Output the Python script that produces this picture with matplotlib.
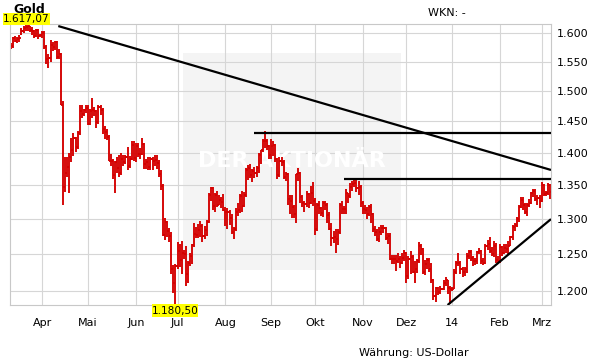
import matplotlib
matplotlib.use("Agg")
import matplotlib.pyplot as plt
import numpy as np
import pandas as pd
from matplotlib.patches import Rectangle
from matplotlib.ticker import FixedLocator, FuncFormatter, NullLocator

# ---------------- data ----------------
dates = pd.bdate_range("2013-03-11", "2014-03-07")

opens = [
    1577, 1578, 1591, 1587, 1589, 1598, 1604, 1610, 1611, 1613, 1606, 1605, 1596, 1606, 1596,
    1597, 1600, 1575, 1554, 1557, 1580, 1575, 1585, 1558, 1564, 1477, 1348, 1369, 1378, 1393, 1405, 1423, 1409, 1431, 1467, 1462, 1468,
    1472, 1446, 1467, 1469, 1467, 1449, 1473, 1469, 1437, 1433, 1425, 1387, 1387, 1366, 1385, 1377, 1369, 1391, 1386, 1394, 1380, 1391, 1412,
    1392, 1411, 1398, 1398, 1414, 1383, 1385, 1378, 1391, 1387, 1388, 1384, 1367, 1349, 1277, 1296, 1283, 1276, 1229, 1211,
    1234, 1255, 1242, 1252, 1250, 1223, 1238, 1247, 1263, 1279, 1277, 1284, 1290, 1276, 1284, 1296, 1335, 1346, 1319, 1335, 1321, 1328, 1325,
    1313, 1310, 1311, 1302, 1282, 1285, 1310, 1313, 1334, 1319, 1336, 1374, 1377, 1365, 1372, 1369, 1376, 1396, 1404, 1419, 1419, 1410,
    1396, 1411, 1412, 1390, 1365, 1387, 1386, 1363, 1367, 1329, 1326, 1317, 1307, 1367, 1368, 1333, 1323, 1322, 1337, 1324, 1338,
    1327, 1286, 1320, 1316, 1309, 1323, 1321, 1306, 1286, 1273, 1274, 1272, 1282, 1320, 1315, 1315, 1339, 1334, 1347, 1352, 1354, 1346, 1348,
    1323, 1315, 1314, 1308, 1318, 1308, 1286, 1281, 1272, 1282, 1287, 1287, 1273, 1275, 1244, 1243, 1244, 1241, 1243, 1238, 1245,
    1251, 1220, 1243, 1246, 1226, 1229, 1241, 1261, 1257, 1226, 1236, 1242, 1229, 1214, 1193, 1204, 1198, 1203, 1203, 1211, 1214, 1204,
    1202, 1203, 1225, 1238, 1238, 1230, 1225, 1229, 1247, 1253, 1245, 1240, 1241, 1253, 1254, 1241, 1238, 1262, 1264, 1255, 1250, 1262, 1242,
    1240, 1260, 1251, 1258, 1257, 1262, 1274, 1289, 1292, 1300, 1318, 1328, 1321, 1311, 1320, 1323, 1338, 1342, 1329, 1331,
    1326, 1350, 1337, 1338, 1351,
]
highs = [
    1583, 1593, 1595, 1594, 1597, 1609, 1614, 1615, 1617.07, 1614, 1611, 1606, 1608, 1607, 1599,
    1605, 1604, 1579, 1563, 1588, 1584, 1587, 1587, 1572, 1566, 1484, 1393, 1394, 1399, 1424, 1431, 1425, 1434, 1476, 1476, 1470, 1477,
    1476, 1470, 1488, 1474, 1468, 1476, 1476, 1472, 1442, 1438, 1428, 1398, 1390, 1387, 1393, 1397, 1399, 1397, 1397, 1409, 1395, 1419, 1418,
    1416, 1416, 1408, 1423, 1416, 1390, 1393, 1394, 1393, 1396, 1396, 1389, 1374, 1352, 1301, 1297, 1287, 1281, 1235, 1237,
    1267, 1264, 1268, 1256, 1262, 1240, 1252, 1265, 1294, 1288, 1293, 1297, 1293, 1290, 1299, 1339, 1348, 1347, 1338, 1342, 1336, 1333, 1337,
    1317, 1316, 1314, 1307, 1289, 1316, 1324, 1337, 1341, 1340, 1377, 1381, 1383, 1375, 1378, 1380, 1399, 1405, 1421, 1433.8, 1422, 1413,
    1421, 1419, 1414, 1392, 1393, 1393, 1388, 1371, 1369, 1336, 1336, 1320, 1367, 1376, 1370, 1336, 1326, 1341, 1339, 1349, 1355,
    1331, 1324, 1326, 1318, 1327, 1326, 1324, 1310, 1295, 1283, 1285, 1286, 1324, 1326, 1319, 1344, 1339, 1353, 1356, 1361, 1359, 1356, 1350,
    1326, 1321, 1317, 1321, 1322, 1309, 1290, 1286, 1289, 1291, 1292, 1289, 1280, 1280, 1249, 1249, 1249, 1251, 1248, 1252, 1256,
    1253, 1247, 1254, 1249, 1240, 1244, 1267, 1264, 1259, 1242, 1245, 1245, 1238, 1216, 1205, 1205, 1206, 1204, 1215, 1218, 1215, 1206,
    1205, 1230, 1240, 1251, 1240, 1232, 1232, 1251, 1256, 1256, 1247, 1245, 1255, 1259, 1256, 1245, 1265, 1270, 1274, 1260, 1269, 1266, 1248,
    1264, 1262, 1264, 1265, 1268, 1276, 1291, 1294, 1303, 1321, 1332, 1332, 1323, 1323, 1330, 1340, 1345, 1344, 1335, 1336,
    1355, 1352, 1342, 1354, 1352,
]
lows = [
    1572, 1574, 1584, 1583, 1585, 1597, 1600, 1604, 1605, 1603, 1597, 1592, 1594, 1590, 1594,
    1592, 1573, 1546, 1540, 1550, 1568, 1570, 1555, 1555, 1476, 1321, 1340, 1362, 1338, 1385, 1395, 1402, 1406, 1428, 1455, 1458, 1464,
    1444, 1444, 1455, 1458, 1440, 1446, 1461, 1430, 1421, 1420, 1387, 1380, 1359, 1338, 1369, 1362, 1365, 1380, 1383, 1373, 1376, 1389, 1387,
    1386, 1394, 1391, 1396, 1375, 1375, 1373, 1374, 1374, 1380, 1375, 1362, 1343, 1275, 1270, 1274, 1267, 1222, 1197, 1180.5,
    1230, 1232, 1223, 1244, 1207, 1211, 1233, 1237, 1260, 1273, 1273, 1274, 1267, 1271, 1275, 1294, 1326, 1313, 1311, 1318, 1320, 1316, 1312,
    1290, 1285, 1292, 1278, 1271, 1283, 1305, 1309, 1310, 1318, 1333, 1358, 1361, 1355, 1361, 1362, 1369, 1383, 1401, 1408, 1404, 1390,
    1391, 1395, 1385, 1360, 1362, 1380, 1360, 1357, 1321, 1308, 1301, 1301, 1295, 1357, 1324, 1317, 1311, 1318, 1316, 1322, 1319,
    1277, 1283, 1307, 1305, 1303, 1313, 1295, 1284, 1262, 1266, 1251, 1263, 1278, 1307, 1307, 1307, 1324, 1331, 1342, 1348, 1340, 1336, 1318,
    1307, 1308, 1300, 1304, 1294, 1281, 1276, 1268, 1267, 1277, 1280, 1270, 1264, 1242, 1237, 1237, 1227, 1238, 1231, 1237, 1240,
    1211, 1216, 1223, 1224, 1211, 1224, 1238, 1249, 1222, 1221, 1230, 1226, 1211, 1187, 1185, 1194, 1196, 1201, 1201, 1207, 1195, 1182,
    1200, 1202, 1222, 1233, 1223, 1218, 1220, 1224, 1243, 1240, 1233, 1235, 1237, 1250, 1237, 1235, 1236, 1256, 1252, 1248, 1246, 1238, 1238,
    1238, 1248, 1250, 1251, 1250, 1261, 1270, 1283, 1288, 1296, 1316, 1314, 1307, 1305, 1317, 1322, 1333, 1326, 1320, 1316,
    1325, 1334, 1334, 1336, 1330,
]
closes = [
    1578, 1591, 1587, 1589, 1592, 1604, 1610, 1611, 1613, 1606, 1605, 1596, 1606, 1596, 1597,
    1600, 1575, 1554, 1557, 1580, 1575, 1585, 1558, 1564, 1477, 1348, 1369, 1378, 1393, 1405, 1423, 1409, 1431, 1467, 1462, 1468, 1472,
    1446, 1467, 1469, 1467, 1449, 1473, 1469, 1437, 1433, 1425, 1387, 1387, 1366, 1385, 1377, 1369, 1391, 1386, 1394, 1380, 1391, 1412, 1392,
    1411, 1398, 1398, 1414, 1383, 1385, 1378, 1391, 1387, 1388, 1384, 1367, 1349, 1277, 1296, 1283, 1276, 1229, 1211, 1234,
    1255, 1242, 1252, 1250, 1223, 1238, 1247, 1263, 1279, 1277, 1284, 1290, 1276, 1284, 1296, 1335, 1346, 1319, 1335, 1321, 1328, 1325, 1313,
    1310, 1311, 1302, 1282, 1285, 1310, 1313, 1334, 1319, 1336, 1374, 1377, 1365, 1372, 1369, 1376, 1396, 1404, 1419, 1419, 1410, 1396,
    1411, 1412, 1390, 1365, 1387, 1386, 1363, 1367, 1329, 1326, 1317, 1307, 1367, 1368, 1333, 1323, 1322, 1337, 1324, 1338, 1327,
    1286, 1320, 1316, 1309, 1323, 1321, 1306, 1286, 1273, 1274, 1272, 1282, 1320, 1315, 1315, 1339, 1334, 1347, 1352, 1354, 1346, 1348, 1323,
    1315, 1314, 1308, 1318, 1308, 1286, 1281, 1272, 1282, 1287, 1287, 1273, 1275, 1244, 1243, 1244, 1241, 1243, 1238, 1245, 1251,
    1220, 1243, 1246, 1226, 1229, 1241, 1261, 1257, 1226, 1236, 1242, 1229, 1214, 1193, 1204, 1198, 1203, 1203, 1211, 1214, 1204, 1202,
    1203, 1225, 1238, 1238, 1230, 1225, 1229, 1247, 1253, 1245, 1240, 1241, 1253, 1254, 1241, 1238, 1262, 1264, 1255, 1250, 1262, 1242, 1240,
    1260, 1251, 1258, 1257, 1262, 1274, 1289, 1292, 1300, 1318, 1328, 1321, 1311, 1320, 1323, 1338, 1342, 1329, 1331, 1326,
    1350, 1337, 1338, 1351, 1340,
]

month_labels = ["Apr", "Mai", "Jun", "Jul", "Aug", "Sep", "Okt", "Nov", "Dez", "14", "Feb", "Mrz"]
y_ticks = [1200, 1250, 1300, 1350, 1400, 1450, 1500, 1550, 1600]

# trend lines: (start index, start price, end index, end price)
trend_lines = [
    (22.7, 1613.0, 259.5, 1373.4),
    (116.7, 1430.8, 259.5, 1430.8),
    (160.2, 1359.2, 259.5, 1359.2),
    (209.8, 1181.0, 259.5, 1300.0),
]

# ---------------- figure ----------------
W, Hpx = 611, 364
fig = plt.figure(figsize=(W / 100, Hpx / 100), dpi=100)


def fx(px):
    return px / W


def fy(py):
    return 1 - py / Hpx


ax = fig.add_axes([fx(10), fy(305.4), fx(551) - fx(10), fy(23.8) - fy(305.4)])
ax.set_yscale("log")

x = np.arange(len(dates))
red = "#d40000"
ax.vlines(x, lows, highs, color=red, lw=1.35, zorder=2)
ax.hlines(opens, x - 0.55, x, color=red, lw=1.3, zorder=2)
ax.hlines(closes, x, x + 0.55, color=red, lw=1.3, zorder=2)

for (x0, y0, x1, y1) in trend_lines:
    ax.plot([x0, x1], [y0, y1], color="black", lw=1.6, zorder=3, solid_capstyle="butt")

ax.set_xlim(-0.5, len(dates) - 0.5)
ax.set_ylim(min(lows), max(highs))

# month ticks at first weekday of each month
month_starts = [i for i in range(1, len(dates)) if dates[i].month != dates[i - 1].month]
ax.xaxis.set_major_locator(FixedLocator(month_starts))
ax.xaxis.set_minor_locator(NullLocator())
ax.set_xticklabels(month_labels)

ax.yaxis.set_major_locator(FixedLocator(y_ticks))
ax.yaxis.set_minor_locator(NullLocator())
ax.yaxis.set_major_formatter(FuncFormatter(lambda v, p: f"{v:,.0f}".replace(",", ".")))
ax.yaxis.tick_right()

ax.tick_params(axis="y", length=0, pad=4.3, labelsize=8, colors="black")
ax.tick_params(axis="x", length=0, pad=9, labelsize=8, colors="black")
ax.grid(True, color="#d6d6d6", lw=0.8)
ax.set_axisbelow(True)
for s in ax.spines.values():
    s.set_color("#c8c8c8")
    s.set_linewidth(0.8)

# watermark
wm = Rectangle((fx(183), fy(270)), fx(401) - fx(183), fy(53) - fy(270),
               transform=fig.transFigure, facecolor="#f4f4f4", edgecolor="none", zorder=0.2)
ax.add_patch(wm)
ax.text(fx(292), fy(161), "DER AKTIONÄR", transform=fig.transFigure, ha="center", va="center",
        fontsize=16, weight="bold", color="white", zorder=0.8)


def de_fmt(v):
    return f"{v:,.2f}".replace(",", "X").replace(".", ",").replace("X", ".")


# texts
fig.text(fx(13), fy(3), "Gold", fontsize=9, weight="bold", va="top", ha="left", zorder=3)
fig.add_artist(Rectangle((fx(3), fy(25)), fx(50) - fx(3), fy(13.3) - fy(25),
                         transform=fig.transFigure, facecolor="#ffff00", edgecolor="none", zorder=4))
fig.text(fx(26.5), fy(19.3), de_fmt(max(highs)), fontsize=7.6, ha="center", va="center", zorder=5)

fig.add_artist(Rectangle((fx(151.7), fy(316.7)), fx(198.3) - fx(151.7), fy(304.3) - fy(316.7),
                         transform=fig.transFigure, facecolor="#ffff00", edgecolor="none", zorder=4))
fig.text(fx(175), fy(310.6), de_fmt(min(lows)), fontsize=7.6, ha="center", va="center", zorder=5)

fig.text(fx(428), fy(13.3), "WKN: -", fontsize=8, ha="left", va="center")
fig.text(fx(413.5), fy(353.5), "Währung: US-Dollar", fontsize=8, ha="center", va="center")

fig.savefig("out.png", dpi=100)
